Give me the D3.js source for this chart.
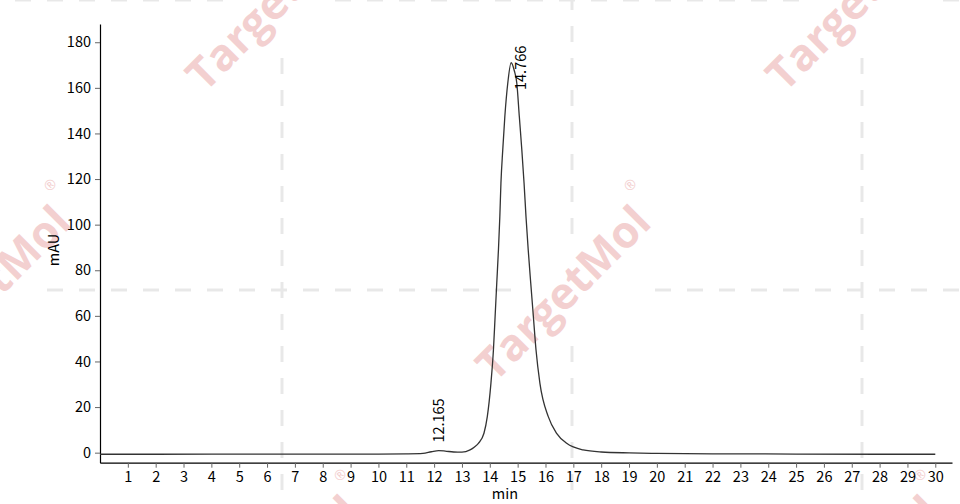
<!DOCTYPE html>
<html>
<head>
<meta charset="utf-8">
<script src="https://cdn.jsdelivr.net/npm/d3@7"></script>
<style>
  body { margin: 0; background: #fff; }
  svg { display: block; }
</style>
</head>
<body>
<div id="chart-container"></div>
<script>

// Retention time (min) and detector signal (mAU).
var times  = [0, 2, 4, 6, 8, 10, 11, 11.6, 11.9, 12.165, 12.4, 12.7, 13.0, 13.29,
              13.45, 13.59, 13.79, 13.91, 14.04, 14.13, 14.19, 14.25, 14.31, 14.36,
              14.40, 14.465, 14.54, 14.645, 14.766, 14.88, 14.97, 15.06, 15.15, 15.23,
              15.30, 15.38, 15.47, 15.565, 15.66, 15.80, 16.1, 16.4, 16.76, 17.35,
              18, 19, 20, 22, 25, 28, 30];
var signal = [-0.7, -0.7, -0.6, -0.6, -0.6, -0.6, -0.5, -0.3, 0.4, 0.9, 0.7, 0.3, 0.2, 1.2,
              2.5, 4.1, 8.5, 15.8, 30.4, 45.0, 59.6, 74.4, 88.9, 103.5,
              118.3, 132.8, 147.4, 162.0, 171.0, 167.5, 162.0, 147.4, 132.8, 118.3,
              103.5, 88.9, 74.4, 59.6, 45.0, 30.4, 15.8, 8.5, 4.1, 1.2,
              0.3, -0.1, -0.3, -0.5, -0.6, -0.7, -0.7];

// Peak annotations.
var peakTimes   = [12.165, 14.766];
var peakHeights = [0.9, 171.0];

// Axis ticks.
var xTicks = [1, 2, 3, 4, 5, 6, 7, 8, 9, 10, 11, 12, 13, 14, 15, 16, 17, 18, 19, 20,
              21, 22, 23, 24, 25, 26, 27, 28, 29, 30];
var yTicks = [0, 20, 40, 60, 80, 100, 120, 140, 160, 180];

var W = 960, H = 504;
var font = "'Noto Sans CJK SC', 'Noto Sans', sans-serif";

var svg = d3.select("#chart-container").append("svg")
    .attr("width", W)
    .attr("height", H);

// Background watermark: dashed crosses broken around each logo.
var wm = svg.append("g");
var marks = [[282, 0], [862, 0], [572, 290], [-8, 290], [282, 580], [862, 580]];
function hidden(px, py) {
    return marks.some(function(m) { return Math.hypot(m[0] - px, m[1] - py) < 60; });
}
[0, 290].forEach(function(yy) {
    for (var xx = 15 - 32; xx < W; xx += 32) {
        if (hidden(xx + 8, yy)) continue;
        wm.append("line")
            .attr("x1", xx).attr("x2", xx + 16)
            .attr("y1", yy).attr("y2", yy)
            .attr("stroke", "#e8e8e8").attr("stroke-width", 3);
    }
});
[-8, 282, 572, 862].forEach(function(xx) {
    for (var yy = 26 - 32; yy < H; yy += 32) {
        if (hidden(xx, yy + 8)) continue;
        wm.append("line")
            .attr("x1", xx).attr("x2", xx)
            .attr("y1", yy).attr("y2", yy + 16)
            .attr("stroke", "#e8e8e8").attr("stroke-width", 3);
    }
});
marks.forEach(function(m) {
    var g = wm.append("g")
        .attr("transform", "translate(" + (m[0] - 9) + "," + (m[1] + 3) + ") rotate(-45)");
    g.append("text")
        .attr("text-anchor", "middle")
        .attr("dy", "0.35em")
        .attr("font-family", "'Open Sans', 'Noto Sans', sans-serif")
        .attr("font-weight", "bold")
        .attr("font-size", 44)
        .attr("fill", "#f3d0d0")
        .text("TargetMol");
    g.append("text")
        .attr("x", 124)
        .attr("y", -24)
        .attr("text-anchor", "middle")
        .attr("font-family", "'Open Sans', sans-serif")
        .attr("font-size", 14)
        .attr("fill", "#f3d0d0")
        .text("\u00AE");
});

// Scales.
var x = d3.scaleLinear().domain([0, 30.6]).range([100, 952]);
var y = d3.scaleLinear().domain([-4.4, 188]).range([462.7, 24]);

// Axes.
var xAxis = svg.append("g")
    .attr("transform", "translate(0," + y(-4.4) + ")")
    .call(d3.axisBottom(x).tickValues(xTicks).tickSize(5).tickPadding(4).tickSizeOuter(0));
var yAxis = svg.append("g")
    .attr("transform", "translate(" + x(0) + ",0)")
    .call(d3.axisLeft(y).tickValues(yTicks).tickSize(5).tickPadding(4).tickSizeOuter(0));

[xAxis, yAxis].forEach(function(a) {
    a.select(".domain").attr("stroke", "#000").attr("stroke-width", 1.2);
    a.selectAll(".tick line").attr("stroke", "#666");
    a.selectAll(".tick text")
        .attr("font-family", font)
        .attr("font-size", 14.5)
        .attr("fill", "#000");
});

// Axis titles.
svg.append("text")
    .attr("transform", "translate(59,250) rotate(-90)")
    .attr("text-anchor", "middle")
    .attr("font-family", font)
    .attr("font-size", 14.5)
    .text("mAU");
svg.append("text")
    .attr("x", 505)
    .attr("y", 499)
    .attr("text-anchor", "middle")
    .attr("font-family", font)
    .attr("font-size", 14.5)
    .text("min");

// Chromatogram trace.
var line = d3.line()
    .x(function(d, i) { return x(times[i]); })
    .y(function(d) { return y(d); })
    .curve(d3.curveMonotoneX);

svg.append("path")
    .datum(signal)
    .attr("d", line)
    .attr("fill", "none")
    .attr("stroke", "#333")
    .attr("stroke-width", 1.3);

// Peak labels (pushed aside if they would leave the plot).
peakTimes.forEach(function(t, i) {
    var py = y(peakHeights[i]) - 8;
    var px = x(t) + 5;
    if (py < 90) { py = 90; px = x(t) + 15; }
    svg.append("text")
        .attr("transform", "translate(" + px + "," + py + ") rotate(-90)")
        .attr("font-family", font)
        .attr("font-size", 14.5)
        .attr("fill", "#000")
        .text(t.toFixed(3));
});
</script>
</body>
</html>
